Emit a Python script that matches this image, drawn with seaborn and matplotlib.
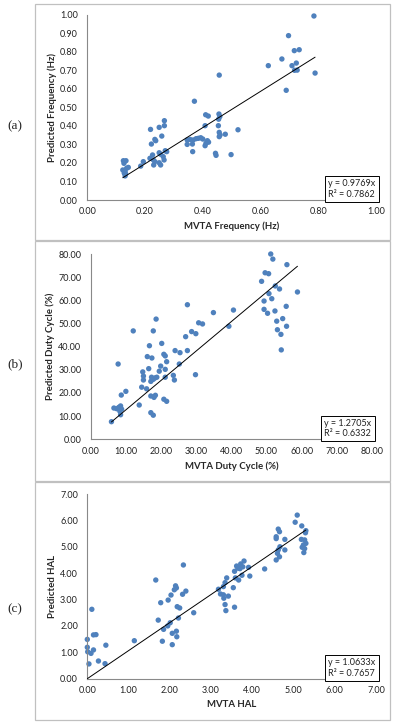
import matplotlib
matplotlib.use('Agg')
import matplotlib.pyplot as plt
import seaborn as sns
import pandas as pd
from matplotlib.patches import Rectangle

sns.set_style('white')
plt.rcParams['font.family'] = ['Lato', 'DejaVu Sans']

# (a) frequency
a_x = [0.785, 0.697, 0.717, 0.734, 0.674, 0.627, 0.709, 0.724, 0.718, 0.727, 0.789, 0.689,
       0.457, 0.371, 0.410, 0.419, 0.456, 0.459, 0.455, 0.408, 0.454, 0.522, 0.457, 0.460, 0.478, 0.457,
       0.346, 0.356, 0.367, 0.377, 0.385, 0.393, 0.400, 0.416, 0.411, 0.408, 0.364, 0.346, 0.420,
       0.365, 0.444, 0.446, 0.498,
       0.219, 0.249, 0.267, 0.267, 0.258, 0.234, 0.237, 0.222, 0.226, 0.217,
       0.229, 0.234, 0.249, 0.254, 0.263, 0.266, 0.275, 0.270, 0.249, 0.254,
       0.230, 0.194, 0.185,
       0.125, 0.134, 0.127, 0.123, 0.131, 0.136, 0.131, 0.142, 0.128, 0.133]
a_y = [0.993, 0.887, 0.806, 0.811, 0.761, 0.725, 0.725, 0.739, 0.700, 0.701, 0.685, 0.592,
       0.674, 0.533, 0.460, 0.453, 0.464, 0.450, 0.436, 0.401, 0.401, 0.379, 0.365, 0.351, 0.355, 0.342,
       0.324, 0.327, 0.324, 0.331, 0.333, 0.336, 0.329, 0.320, 0.306, 0.293, 0.302, 0.300, 0.312,
       0.261, 0.252, 0.241, 0.245,
       0.381, 0.392, 0.428, 0.401, 0.345, 0.327, 0.320, 0.302, 0.243, 0.225,
       0.216, 0.207, 0.255, 0.247, 0.234, 0.216, 0.261, 0.266, 0.201, 0.189,
       0.189, 0.207, 0.183,
       0.212, 0.212, 0.198, 0.162, 0.153, 0.171, 0.130, 0.176, 0.145, 0.140]

# (b) duty cycle
b_x = [51.2, 51.8, 55.8, 49.6, 50.6, 48.6, 52.5, 53.7, 58.8, 50.7,
       49.3, 51.5, 55.6, 49.3, 52.4, 50.3, 54.6, 52.9, 55.7, 53.1, 54.1, 54.2,
       40.6, 34.9, 39.3, 30.7, 31.8, 27.5, 28.7, 29.9, 27.0,
       18.6, 12.1, 17.8, 20.2, 16.7, 24.0, 25.4, 27.5, 16.1, 17.4,
       20.8, 21.2, 21.6, 7.8, 19.9, 16.5, 25.2, 21.2, 19.5, 14.8, 15.0, 15.0,
       17.3, 17.8, 18.3, 17.1, 18.8, 21.2, 23.5, 23.8, 29.8, 14.5,
       15.9, 17.1, 18.4, 18.0, 20.8, 21.6, 10.0, 8.7, 13.8, 17.1, 17.8,
       6.6, 7.4, 8.0, 8.5, 8.8, 8.3, 8.5, 5.9]
b_y = [80.0, 77.8, 75.4, 71.9, 71.5, 68.2, 66.2, 64.9, 63.6, 62.9,
       59.7, 60.7, 57.4, 56.1, 55.4, 54.4, 52.1, 51.0, 48.8, 47.3, 45.3, 38.6,
       55.8, 54.7, 48.8, 50.3, 49.8, 58.1, 46.5, 45.6, 44.3,
       51.9, 46.8, 46.8, 41.4, 40.4, 38.3, 37.4, 38.3, 35.7, 35.1,
       36.7, 36.0, 33.5, 32.5, 31.6, 30.5, 32.5, 30.2, 29.4, 29.1, 27.3, 25.6,
       26.8, 25.9, 26.5, 25.0, 26.8, 26.8, 27.6, 25.6, 27.9, 22.5,
       21.8, 18.7, 19.0, 18.1, 17.3, 16.4, 20.7, 19.1, 14.8, 11.5, 10.4,
       13.5, 13.2, 13.8, 14.4, 13.0, 12.1, 10.6, 7.6]

# (c) HAL
c_x = [2.33, 1.66, 2.14, 2.11, 2.16, 2.39, 2.31, 2.03, 1.96, 1.78,
       2.18, 2.24, 2.58, 1.72, 2.21, 2.01, 1.95, 1.85, 2.06, 2.16, 2.17, 1.82, 2.06, 1.14,
       0.11, 0.15, 0.21, 0.00, 0.00, 0.01, 0.09, 0.15, 0.45, 0.27, 0.43, 0.04,
       5.09, 5.04, 5.20, 5.30, 5.29, 4.63, 4.66, 4.58, 4.58, 4.79,
       5.19, 5.27, 5.24, 5.30, 5.21, 5.27, 5.25, 4.67, 4.63, 4.61, 4.66, 4.58, 4.79,
       4.30, 3.80, 3.72, 3.62, 3.77, 3.91, 3.65, 3.70, 3.57, 3.75,
       3.67, 3.59, 3.94, 3.38, 3.34, 3.30, 3.54, 3.18, 3.23, 3.30, 3.42, 3.31, 3.34, 3.57, 3.36]
c_y = [4.31, 3.74, 3.52, 3.37, 3.44, 3.32, 3.20, 3.17, 2.98, 2.88,
       2.73, 2.68, 2.50, 2.22, 2.30, 2.12, 2.00, 1.87, 1.72, 1.80, 1.59, 1.42, 1.29, 1.44,
       2.63, 1.66, 1.67, 1.49, 1.19, 1.02, 0.96, 1.09, 1.27, 0.67, 0.57, 0.56,
       6.20, 5.93, 5.79, 5.61, 5.53, 5.67, 5.57, 5.38, 5.31, 5.28,
       5.28, 5.26, 5.07, 5.13, 4.98, 4.93, 4.78, 5.00, 4.88, 4.75, 4.62, 4.50, 4.88,
       4.16, 4.46, 4.35, 4.27, 4.24, 4.22, 4.19, 4.17, 4.07, 3.92,
       3.74, 3.82, 3.89, 3.82, 3.64, 3.49, 3.45, 3.39, 3.21, 3.18, 3.13, 3.05, 2.81, 2.71, 2.58]

slopes = [0.9769, 1.2705, 1.0633]
r2 = ['0.7862', '0.6332', '0.7657']
x_labels = ['MVTA Frequency (Hz)', 'MVTA Duty Cycle (%)', 'MVTA HAL']
y_labels = ['Predicted Frequency (Hz)', 'Predicted Duty Cycle (%)', 'Predicted HAL']
letters = ['(a)', '(b)', '(c)']
ticks = [[0, 0.2, 0.4, 0.6, 0.8, 1.0],
         [0, 10, 20, 30, 40, 50, 60, 70, 80],
         [0, 1, 2, 3, 4, 5, 6, 7]]
y_ticks = [[0, 0.1, 0.2, 0.3, 0.4, 0.5, 0.6, 0.7, 0.8, 0.9, 1.0],
           [0, 10, 20, 30, 40, 50, 60, 70, 80],
           [0, 1, 2, 3, 4, 5, 6, 7]]

W, H = 400, 726
fig = plt.figure(figsize=(4, 7.26), dpi=100)

# axes rectangles in pixels: left, top, right, bottom
ax_px = [(87.3, 14.7, 376, 200), (90.7, 254, 372, 439.3), (87.3, 494, 376, 678.7)]
box_px = [(35, 4, 390, 240), (35, 241, 390, 481), (35, 482, 390, 720)]
letter_y = [126, 364, 609]
grey = '#898989'

for i, (xs, ys) in enumerate([(a_x, a_y), (b_x, b_y), (c_x, c_y)]):
    l, t, r, b = ax_px[i]
    ax = fig.add_axes([l / W, 1 - b / H, (r - l) / W, (b - t) / H])
    df = pd.DataFrame({'x': xs, 'y': ys})
    sns.scatterplot(data=df, x='x', y='y', ax=ax, color='#4f81bd', s=15,
                    edgecolor='none', linewidth=0, clip_on=False, zorder=2)
    lo, hi = df['x'].min(), df['x'].max()
    ax.plot([lo, hi], [slopes[i] * lo, slopes[i] * hi], color='black', lw=0.7, zorder=3)

    ax.set_xlim(ticks[i][0], ticks[i][-1])
    ax.set_ylim(y_ticks[i][0], y_ticks[i][-1])
    ax.set_xticks(ticks[i])
    ax.set_yticks(y_ticks[i])
    ax.set_xticklabels([f'{v:.2f}' for v in ticks[i]])
    ax.set_yticklabels([f'{v:.2f}' for v in y_ticks[i]])
    ax.tick_params(axis='both', direction='out', length=2.2, width=0.7, color=grey,
                   labelsize=6.5, labelcolor='#222222')
    ax.tick_params(axis='y', pad=4.5)
    ax.tick_params(axis='x', pad=3)
    for s in ['top', 'right']:
        ax.spines[s].set_visible(False)
    for s in ['left', 'bottom']:
        ax.spines[s].set_color(grey)
        ax.spines[s].set_linewidth(0.8)
    ax.set_xlabel(x_labels[i], fontsize=6.9, fontweight='bold', labelpad=4)
    ax.set_ylabel(y_labels[i], fontsize=6.9, fontweight='bold', labelpad=2.5)

    ax.text(0.998, 0.006, f'y = {slopes[i]:.4f}x\nR² = {r2[i]}', transform=ax.transAxes,
            ha='right', va='bottom', multialignment='left', fontsize=6.5, color='#222222',
            bbox=dict(boxstyle='square,pad=0.35', fc='white', ec='black', lw=0.7), zorder=4)

    bl, bt, br, bb = box_px[i]
    fig.add_artist(Rectangle((bl / W, 1 - bb / H), (br - bl) / W, (bb - bt) / H,
                             transform=fig.transFigure, fill=False, ec='#c0c0c0', lw=0.9))
    fig.text(14.7 / W, 1 - letter_y[i] / H, letters[i], family='Liberation Serif',
             fontsize=9.5, ha='center', va='center')

fig.savefig('out.png', dpi=100)
